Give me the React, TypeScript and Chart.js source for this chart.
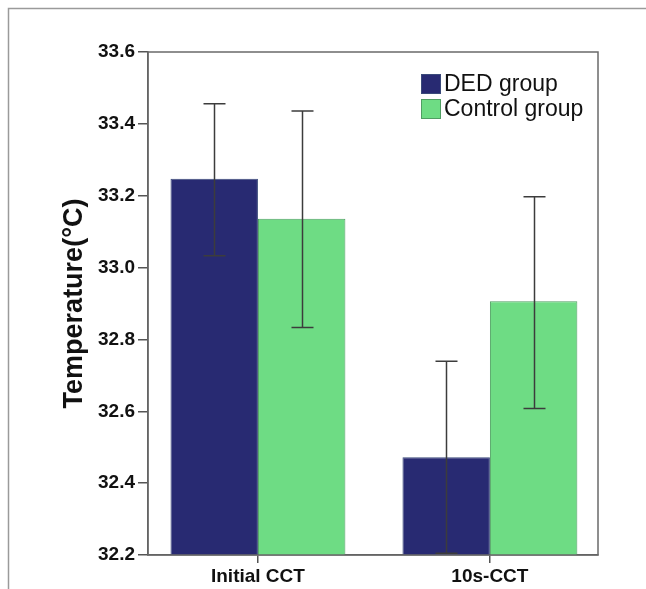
import React, { useEffect, useRef } from 'react';
import { Chart, registerables } from 'chart.js';

Chart.register(...registerables);

// ---- data ----
const categories = ['Initial CCT', '10s-CCT'];
const seriesNames = ['DED group', 'Control group'];
const dedMeans = [33.247, 32.472];
const dedLower = [33.033, 32.205];
const dedUpper = [33.456, 32.739];
const controlMeans = [33.136, 32.906];
const controlLower = [32.833, 32.608];
const controlUpper = [33.436, 33.197];
const yAxisTitle = 'Temperature(°C)';

const FONT = "'Liberation Sans', Arial, sans-serif";
const colors = ['#282a72', '#6edc84'];
const borderColors = ['#3a4a7a', '#4f9e62'];

const errorLow = [dedLower, controlLower];
const errorHigh = [dedUpper, controlUpper];

const framePlugin = {
  id: 'frame',
  beforeDraw(chart: any) {
    const { ctx, width, height } = chart;
    ctx.save();
    ctx.fillStyle = '#ffffff';
    ctx.fillRect(0, 0, width, height);
    ctx.strokeStyle = '#9a9a9a';
    ctx.lineWidth = 1.5;
    ctx.beginPath();
    ctx.moveTo(8.5, height);
    ctx.lineTo(8.5, 8.5);
    ctx.lineTo(width, 8.5);
    ctx.stroke();
    ctx.restore();
  },
  afterDatasetsDraw(chart: any) {
    const { ctx, chartArea, scales } = chart;
    const y = scales.y;
    ctx.save();
    ctx.beginPath();
    ctx.rect(chartArea.left, chartArea.top, chartArea.right - chartArea.left, chartArea.bottom - chartArea.top);
    ctx.clip();
    ctx.strokeStyle = '#3c3c3c';
    ctx.lineWidth = 1.5;
    chart.data.datasets.forEach((ds: any, di: number) => {
      const meta = chart.getDatasetMeta(di);
      meta.data.forEach((bar: any, i: number) => {
        const x = Math.round(bar.x) + 0.5;
        const yl = y.getPixelForValue(errorLow[di][i]);
        const yh = y.getPixelForValue(errorHigh[di][i]);
        const cap = 11;
        ctx.beginPath();
        ctx.moveTo(x, yl);
        ctx.lineTo(x, yh);
        ctx.moveTo(x - cap, yh);
        ctx.lineTo(x + cap, yh);
        ctx.moveTo(x - cap, yl);
        ctx.lineTo(x + cap, yl);
        ctx.stroke();
      });
    });
    ctx.restore();

    // plot box
    ctx.save();
    ctx.strokeStyle = '#6a6a6a';
    ctx.lineWidth = 1.5;
    ctx.strokeRect(chartArea.left, chartArea.top, chartArea.right - chartArea.left, chartArea.bottom - chartArea.top);
    ctx.restore();

    // legend
    ctx.save();
    const lx = 421;
    const ly = [74, 99];
    chart.data.datasets.forEach((ds: any, di: number) => {
      ctx.fillStyle = colors[di];
      ctx.fillRect(lx, ly[di], 20, 20);
      ctx.strokeStyle = borderColors[di];
      ctx.lineWidth = 1;
      ctx.strokeRect(lx + 0.5, ly[di] + 0.5, 19, 19);
      ctx.fillStyle = '#111111';
      ctx.font = `23px ${FONT}`;
      ctx.textBaseline = 'middle';
      ctx.textAlign = 'left';
      ctx.fillText(ds.label, lx + 23, ly[di] + 11);
    });
    ctx.restore();
  },
};

export default function App() {
  const ref = useRef<HTMLCanvasElement | null>(null);

  useEffect(() => {
    if (!ref.current) return;
    const chart = new Chart(ref.current, {
      type: 'bar',
      data: {
        datasets: [
          {
            label: seriesNames[0],
            data: dedMeans.map((v, i) => ({ x: i, y: v })),
            backgroundColor: colors[0],
            borderColor: borderColors[0],
            borderWidth: 1,
          },
          {
            label: seriesNames[1],
            data: controlMeans.map((v, i) => ({ x: i, y: v })),
            backgroundColor: colors[1],
            borderColor: borderColors[1],
            borderWidth: 1,
          },
        ],
      },
      options: {
        responsive: false,
        animation: false,
        maintainAspectRatio: false,
        layout: { padding: { top: 52, right: 48, left: 0, bottom: 0 } },
        datasets: { bar: { categoryPercentage: 0.754, barPercentage: 1.0 } },
        plugins: { legend: { display: false }, tooltip: { enabled: false } },
        scales: {
          x: {
            type: 'linear',
            offset: false,
            min: -0.474,
            max: 1.466,
            afterBuildTicks: (s: any) => {
              s.ticks = categories.map((_, i) => ({ value: i }));
            },
            afterFit: (s: any) => {
              s.height = 34;
            },
            grid: { offset: false, drawOnChartArea: false, drawTicks: true, tickLength: 8, color: '#555555', lineWidth: 1.5 },
            border: { display: true, color: '#555555', width: 1.5 },
            ticks: {
              callback: (v: any) => categories[v] ?? '',
              font: { family: FONT, size: 19, weight: 'bold' },
              color: '#111111',
              padding: 2,
              maxRotation: 0,
              autoSkip: false,
            },
          },
          y: {
            min: 32.2,
            max: 33.6,
            afterFit: (s: any) => {
              s.width = 148;
            },
            grid: { drawOnChartArea: false, drawTicks: true, tickLength: 10, color: '#555555', lineWidth: 1.5 },
            border: { display: true, color: '#555555', width: 1.5 },
            ticks: {
              stepSize: 0.2,
              callback: (v: any) => Number(v).toFixed(1),
              font: { family: FONT, size: 19, weight: 'bold' },
              color: '#111111',
              padding: 3,
            },
            title: {
              display: true,
              text: yAxisTitle,
              font: { family: FONT, size: 27, weight: 'bold' },
              color: '#111111',
              padding: { top: 58, bottom: 0 },
            },
          },
        },
      } as any,
      plugins: [framePlugin],
    });
    return () => chart.destroy();
  }, []);

  return (
    <div style={{ position: 'fixed', left: 0, top: 0, width: 646, height: 589 }}>
      <canvas ref={ref} width={646} height={589} style={{ display: 'block' }} />
    </div>
  );
}
